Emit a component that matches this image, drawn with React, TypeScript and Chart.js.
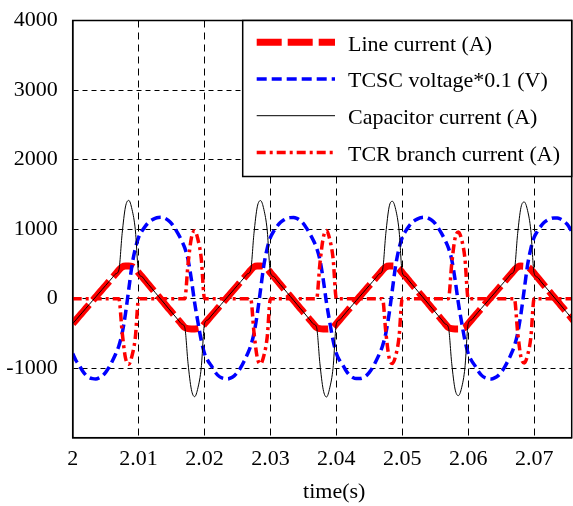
import React, { useEffect, useRef } from 'react';
import { Chart, registerables } from 'chart.js';

Chart.register(...registerables);

// sample times (s)
const time = [
  2, 2.0005, 2.001, 2.0015, 2.002, 2.0025, 2.003, 2.0035, 2.004, 2.0045,
  2.005, 2.0055, 2.006, 2.0065, 2.007, 2.0075, 2.008, 2.0085, 2.009, 2.0095,
  2.01, 2.0105, 2.011, 2.0115, 2.012, 2.0125, 2.013, 2.0135, 2.014, 2.0145,
  2.015, 2.0155, 2.016, 2.0165, 2.017, 2.0175, 2.018, 2.0185, 2.019, 2.0195,
  2.02, 2.0205, 2.021, 2.0215, 2.022, 2.0225, 2.023, 2.0235, 2.024, 2.0245,
  2.025, 2.0255, 2.026, 2.0265, 2.027, 2.0275, 2.028, 2.0285, 2.029, 2.0295,
  2.03, 2.0305, 2.031, 2.0315, 2.032, 2.0325, 2.033, 2.0335, 2.034, 2.0345,
  2.035, 2.0355, 2.036, 2.0365, 2.037, 2.0375, 2.038, 2.0385, 2.039, 2.0395,
  2.04, 2.0405, 2.041, 2.0415, 2.042, 2.0425, 2.043, 2.0435, 2.044, 2.0445,
  2.045, 2.0455, 2.046, 2.0465, 2.047, 2.0475, 2.048, 2.0485, 2.049, 2.0495,
  2.05, 2.0505, 2.051, 2.0515, 2.052, 2.0525, 2.053, 2.0535, 2.054, 2.0545,
  2.055, 2.0555, 2.056, 2.0565, 2.057, 2.0575, 2.058, 2.0585, 2.059, 2.0595,
  2.06, 2.0605, 2.061, 2.0615, 2.062, 2.0625, 2.063, 2.0635, 2.064, 2.0645,
  2.065, 2.0655, 2.066, 2.0665, 2.067, 2.0675, 2.068, 2.0685, 2.069, 2.0695,
  2.07, 2.0705, 2.071, 2.0715, 2.072, 2.0725, 2.073, 2.0735, 2.074, 2.0745,
  2.075, 2.0755, 2.076,
];

// Line current (A)
const lineCurrent = [
  -360, -305, -250, -195, -140, -85, -30, 25, 80, 135,
  190, 245, 300, 355, 410, 455, 468, 468, 462, 430,
  373, 317, 260, 203, 147, 90, 33, -23, -80, -137,
  -193, -250, -307, -363, -415, -432, -435, -435, -432, -415,
  -360, -305, -250, -195, -140, -85, -30, 25, 80, 135,
  190, 245, 300, 355, 410, 457, 470, 470, 463, 430,
  373, 317, 260, 203, 147, 90, 33, -23, -80, -137,
  -193, -250, -307, -363, -415, -432, -436, -436, -432, -415,
  -360, -305, -250, -195, -140, -85, -30, 25, 80, 135,
  190, 245, 300, 355, 410, 455, 468, 468, 462, 430,
  373, 317, 260, 203, 147, 90, 33, -23, -80, -137,
  -193, -250, -307, -363, -415, -432, -435, -435, -432, -415,
  -360, -305, -250, -195, -140, -85, -30, 25, 80, 135,
  190, 245, 300, 355, 410, 455, 468, 466, 455, 420,
  365, 308, 250, 193, 137, 80, 23, -33, -90, -147,
  -203, -260, -317,
];

// TCSC voltage * 0.1 (V)
const tcscVoltage = [
  -790, -890, -960, -1040, -1100, -1135, -1150, -1155, -1140, -1110,
  -1060, -990, -900, -800, -680, -500, -220, 130, 480, 720,
  880, 970, 1040, 1095, 1130, 1155, 1168, 1170, 1155, 1125,
  1080, 1010, 930, 840, 730, 560, 280, -60, -340, -600,
  -790, -890, -960, -1040, -1100, -1135, -1150, -1155, -1140, -1110,
  -1060, -990, -900, -800, -680, -500, -220, 130, 480, 720,
  880, 970, 1040, 1095, 1130, 1155, 1165, 1168, 1155, 1125,
  1080, 1010, 930, 840, 730, 560, 280, -60, -340, -600,
  -790, -890, -960, -1040, -1100, -1135, -1150, -1150, -1140, -1110,
  -1060, -990, -900, -800, -680, -500, -220, 130, 480, 720,
  880, 970, 1040, 1095, 1130, 1155, 1168, 1170, 1155, 1125,
  1080, 1010, 930, 840, 730, 560, 280, -60, -340, -600,
  -790, -890, -960, -1040, -1100, -1135, -1150, -1155, -1140, -1110,
  -1060, -990, -900, -800, -680, -500, -220, 130, 480, 720,
  880, 970, 1040, 1095, 1130, 1150, 1160, 1160, 1145, 1115,
  1070, 1000, 920,
];

// Capacitor current (A)
const capacitorCurrent = [
  -360, -305, -250, -195, -140, -85, -30, 25, 80, 135,
  190, 245, 300, 355, 410, 935, 1318, 1413, 1282, 990,
  373, 317, 260, 203, 147, 90, 33, -23, -80, -137,
  -193, -250, -307, -363, -415, -932, -1305, -1410, -1282, -995,
  -360, -305, -250, -195, -140, -85, -30, 25, 80, 135,
  190, 245, 300, 355, 410, 940, 1320, 1410, 1283, 990,
  373, 317, 260, 203, 147, 90, 33, -23, -80, -137,
  -193, -250, -307, -363, -415, -932, -1306, -1415, -1282, -995,
  -360, -305, -250, -195, -140, -85, -30, 25, 80, 135,
  190, 245, 300, 355, 410, 935, 1318, 1400, 1282, 990,
  373, 317, 260, 203, 147, 90, 33, -23, -80, -137,
  -193, -250, -307, -363, -415, -932, -1300, -1395, -1282, -995,
  -360, -305, -250, -195, -140, -85, -30, 25, 80, 135,
  190, 245, 300, 355, 410, 935, 1310, 1390, 1270, 980,
  365, 308, 250, 193, 137, 80, 23, -33, -90, -147,
  -203, -260, -317,
];

// TCR branch current (A)
const tcrCurrent = [
  0, 0, 0, 0, 0, 0, 0, 0, 0, 0,
  0, 0, 0, 0, 0, -480, -850, -945, -820, -560,
  0, 0, 0, 0, 0, 0, 0, 0, 0, 0,
  0, 0, 0, 0, 0, 500, 870, 975, 850, 580,
  0, 0, 0, 0, 0, 0, 0, 0, 0, 0,
  0, 0, 0, 0, 0, -483, -850, -940, -820, -560,
  0, 0, 0, 0, 0, 0, 0, 0, 0, 0,
  0, 0, 0, 0, 0, 500, 870, 979, 850, 580,
  0, 0, 0, 0, 0, 0, 0, 0, 0, 0,
  0, 0, 0, 0, 0, -480, -850, -932, -820, -560,
  0, 0, 0, 0, 0, 0, 0, 0, 0, 0,
  0, 0, 0, 0, 0, 500, 865, 960, 850, 580,
  0, 0, 0, 0, 0, 0, 0, 0, 0, 0,
  0, 0, 0, 0, 0, -480, -842, -924, -815, -560,
  0, 0, 0, 0, 0, 0, 0, 0, 0, 0,
  0, 0, 0,
];

const seriesLabels = [
  'Line current (A)',
  'TCSC voltage*0.1 (V)',
  'Capacitor current (A)',
  'TCR branch current (A)',
];

const xTickValues = [2, 2.01, 2.02, 2.03, 2.04, 2.05, 2.06, 2.07];
const xTickLabels = ['2', '2.01', '2.02', '2.03', '2.04', '2.05', '2.06', '2.07'];
const yTickValues = [-1000, 0, 1000, 2000, 3000, 4000];
const yTickLabels = ['-1000', '0', '1000', '2000', '3000', '4000'];
const xTitle = 'time(s)';

const X_MIN = 2;
const X_MAX = 2.0757;
const Y_MIN = -2000;
const Y_MAX = 4000;

const SERIF = '"Liberation Serif", "Times New Roman", serif';

const framePlugin = {
  id: 'frameAndLegend',
  afterDatasetsDraw(chart: any) {
    const { ctx, chartArea: a } = chart;
    ctx.save();
    // plot frame
    ctx.setLineDash([]);
    ctx.strokeStyle = '#000';
    ctx.lineWidth = 1.5;
    ctx.strokeRect(a.left, a.top, a.right - a.left, a.bottom - a.top);

    // legend box
    const lw = 329;
    const lh = 156;
    const lx = a.right - lw;
    const ly = a.top;
    ctx.fillStyle = '#fff';
    ctx.fillRect(lx, ly, lw, lh);
    ctx.strokeRect(lx, ly, lw, lh);

    chart.data.datasets.forEach((ds: any, i: number) => {
      const y = ly + 21.8 + i * 36.7;
      ctx.beginPath();
      ctx.setLineDash(ds.borderDash || []);
      ctx.lineWidth = ds.borderWidth;
      ctx.strokeStyle = ds.borderColor;
      ctx.lineCap = 'butt';
      ctx.moveTo(lx + 14, y);
      ctx.lineTo(lx + 92.3, y);
      ctx.stroke();
      ctx.setLineDash([]);
      ctx.fillStyle = '#000';
      ctx.font = '22px ' + SERIF;
      ctx.textAlign = 'left';
      ctx.textBaseline = 'middle';
      ctx.fillText(ds.label, lx + 105.3, y + 2.5);
    });

    // x-axis title
    ctx.fillStyle = '#000';
    ctx.font = '22px ' + SERIF;
    ctx.textAlign = 'center';
    ctx.textBaseline = 'alphabetic';
    ctx.fillText(xTitle, (a.left + a.right) / 2 + 12, chart.height - 8);
    ctx.restore();
  },
};

export default function App() {
  const canvasRef = useRef<HTMLCanvasElement | null>(null);

  useEffect(() => {
    if (!canvasRef.current) return;
    const toPoints = (arr: number[]) => arr.map((v, i) => ({ x: time[i], y: v }));
    const chart = new Chart(canvasRef.current, {
      type: 'line',
      data: {
        datasets: [
          {
            label: seriesLabels[0],
            data: toPoints(lineCurrent),
            borderColor: '#ff0000',
            borderWidth: 7,
            borderDash: [25, 6],
            order: 3,
          },
          {
            label: seriesLabels[1],
            data: toPoints(tcscVoltage),
            borderColor: '#0000ff',
            borderWidth: 3.5,
            borderDash: [10, 5],
            order: 2,
          },
          {
            label: seriesLabels[2],
            data: toPoints(capacitorCurrent),
            borderColor: '#000000',
            borderWidth: 1,
            borderDash: [],
            order: 0,
          },
          {
            label: seriesLabels[3],
            data: toPoints(tcrCurrent),
            borderColor: '#ff0000',
            borderWidth: 3.5,
            borderDash: [9, 4, 3, 4],
            order: 1,
          },
        ],
      },
      options: {
        animation: false,
        responsive: false,
        devicePixelRatio: 1,
        layout: { padding: { top: 6.5, right: 1.3, left: 0, bottom: 0 } },
        elements: {
          point: { radius: 0, hoverRadius: 0 },
          line: { cubicInterpolationMode: 'monotone', borderCapStyle: 'butt', fill: false },
        },
        plugins: { legend: { display: false }, tooltip: { enabled: false } },
        events: [],
        scales: {
          x: {
            type: 'linear',
            position: 'bottom',
            min: X_MIN,
            max: X_MAX,
            afterBuildTicks: (s: any) => {
              s.ticks = xTickValues.map((v) => ({ value: v }));
            },
            afterFit: (s: any) => {
              s.height = 68.3;
            },
            ticks: {
              autoSkip: false,
              maxRotation: 0,
              padding: 8,
              color: '#000',
              font: { family: SERIF, size: 22, lineHeight: 1.2 },
              callback: (v: any) => {
                const idx = xTickValues.indexOf(Number(v));
                return idx >= 0 ? xTickLabels[idx] : '';
              },
            },
            grid: { color: '#000', lineWidth: 1, drawTicks: false },
            border: { display: true, color: '#000', width: 1.5, dash: [7, 5] },
          },
          y: {
            type: 'linear',
            min: Y_MIN,
            max: Y_MAX,
            afterBuildTicks: (s: any) => {
              s.ticks = yTickValues.map((v) => ({ value: v }));
            },
            afterFit: (s: any) => {
              s.width = 72.7;
            },
            ticks: {
              autoSkip: false,
              padding: 15,
              color: '#000',
              font: { family: SERIF, size: 22, lineHeight: 0.5 },
              callback: (v: any) => {
                const idx = yTickValues.indexOf(Number(v));
                return idx >= 0 ? yTickLabels[idx] : '';
              },
            },
            grid: { color: '#000', lineWidth: 1, drawTicks: false },
            border: { display: true, color: '#000', width: 1.5, dash: [5, 4] },
          },
        },
      } as any,
      plugins: [framePlugin],
    });
    return () => chart.destroy();
  }, []);

  return (
    <div style={{ position: 'fixed', left: 0, top: 0, width: 573, height: 506, background: '#fff' }}>
      <canvas ref={canvasRef} width={573} height={506} style={{ display: 'block' }} />
    </div>
  );
}
